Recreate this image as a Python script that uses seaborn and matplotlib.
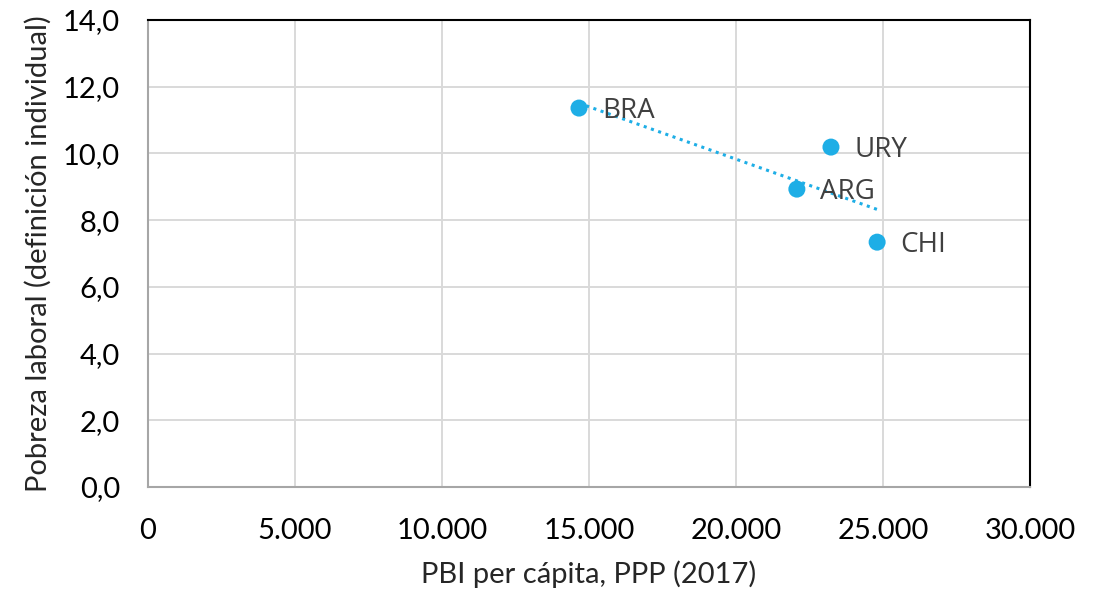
import numpy as np
import pandas as pd
import matplotlib
matplotlib.use("Agg")
import matplotlib.pyplot as plt
import seaborn as sns
from matplotlib.ticker import FuncFormatter

# data
countries = ["BRA", "ARG", "URY", "CHI"]
pbi = [14660, 22070, 23230, 24800]
pobreza = [11.36, 8.93, 10.19, 7.34]

df = pd.DataFrame({"pais": countries, "pbi": pbi, "pobreza": pobreza})

sns.set_style("white")
plt.rcParams["font.family"] = ["Lato", "DejaVu Sans"]

blue = "#1EAEE6"

fig = plt.figure(figsize=(10.96, 5.92), dpi=100)
ax = fig.add_axes([0.135, 0.1774, 0.8048, 0.7888])

ax.grid(True, color="#D9D9D9", linewidth=1.4)
ax.set_axisbelow(True)

# linear trend line (dotted)
sns.regplot(
    data=df, x="pbi", y="pobreza",
    scatter=False, ci=None, truncate=True,
    line_kws=dict(color=blue, linestyle=(0, (1, 1.5)), linewidth=2.2),
    ax=ax
)

sns.scatterplot(
    data=df, x="pbi", y="pobreza",
    color=blue, s=150, edgecolor="none", zorder=3,
    ax=ax
)

for name, x, y in zip(countries, pbi, pobreza):
    ax.annotate(
        name, (x, y),
        xytext=(17, -2), textcoords="offset points",
        va="center", ha="left",
        fontsize=20, color="#404040",
        family=["Open Sans", "DejaVu Sans"]
    )

ax.set_xlim(0, 30000)
ax.set_ylim(0, 14)
ax.set_xticks(range(0, 30001, 5000))
ax.set_yticks(np.arange(0, 14.1, 2))

ax.xaxis.set_major_formatter(
    FuncFormatter(lambda v, p: f"{int(v):,}".replace(",", "."))
)
ax.yaxis.set_major_formatter(
    FuncFormatter(lambda v, p: f"{v:.1f}".replace(".", ","))
)

ax.tick_params(axis="both", labelsize=21, length=0, colors="black")
ax.tick_params(axis="x", pad=22)
ax.tick_params(axis="y", pad=20)

ax.set_xlabel("PBI per cápita, PPP (2017)", fontsize=21, labelpad=12)
ax.set_ylabel("Pobreza laboral (definición individual)", fontsize=21, labelpad=8)

for side in ["left", "bottom"]:
    ax.spines[side].set_color("#A6A6A6")
    ax.spines[side].set_linewidth(1.5)
for side in ["top", "right"]:
    ax.spines[side].set_visible(True)
    ax.spines[side].set_color("black")
    ax.spines[side].set_linewidth(1.5)

fig.savefig("out.png", dpi=100, facecolor="white")
